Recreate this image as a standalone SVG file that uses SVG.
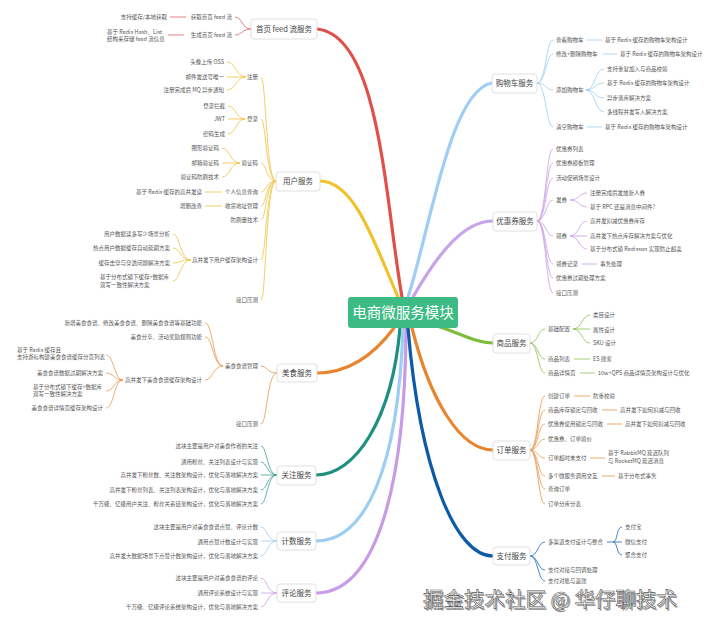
<svg xmlns="http://www.w3.org/2000/svg" width="720" height="625" viewBox="0 0 720 625">
<style>
text{font-family:"Noto Sans CJK SC","Liberation Sans",sans-serif}
.t{font-size:5.5px;fill:#555}
.e{text-anchor:end}
.m{font-size:7.5px;fill:#444;text-anchor:middle}
.box{fill:#fff;stroke:#d8d8d8;stroke-width:0.8}
.br{fill:none;stroke-width:3.2;stroke-linecap:round}
.s{fill:none;stroke-width:0.8}
.red{stroke:#e06060}.yel{stroke:#f0c040}.ora{stroke:#e8954a}.tea{stroke:#3aa090}.lbl{stroke:#9ccdf2}.pur{stroke:#c8a0e6}.grn{stroke:#8cc050}.dbl{stroke:#1a66ae}
.wm{font-size:20.5px;fill:#fff;stroke:#555;stroke-width:0.6}
.wms{font-size:20.5px;fill:#999}
</style>
<rect width="720" height="625" fill="#fff"/>

<g id="connectors">
<path class="br" stroke="#e0504a" d="M402,297 C385,200 380,35 317,29"/>
<path class="br" stroke="#f2c12e" d="M398,297 C375,245 355,181 320,181"/>
<path class="br" stroke="#e8852f" d="M394,328 C370,360 345,373 317,373"/>
<path class="br" stroke="#1f8f7f" d="M400,328 C392,420 355,475 316,475"/>
<path class="br" stroke="#9ccdf2" d="M403,328 C398,470 365,541 316,541"/>
<path class="br" stroke="#c79be6" d="M406,328 C405,500 372,593 316,593"/>
<path class="br" stroke="#9fcdf5" d="M408,297 C430,230 450,90 492,83"/>
<path class="br" stroke="#c7a3ea" d="M413,297 C440,250 465,221 493,221"/>
<path class="br" stroke="#7dbd3b" d="M437,326 C460,333 475,343 493,343"/>
<path class="br" stroke="#e8852f" d="M412,328 C430,400 460,450 493,450"/>
<path class="br" stroke="#0d5aa7" d="M408,328 C420,470 455,556 493,556"/>

<g class="s red">
<path d="M251,29 C242,29 242,17 235,17"/><path d="M251,29 C242,29 242,35 235,35"/>
<path d="M186,17 H170"/><path d="M184,35 H168"/>
</g>
<g class="s yel">
<path d="M276,181 C266,181 266,77 261,77"/><path d="M276,181 C266,181 266,119 261,119"/>
<path d="M276,181 C266,181 266,163 261,163"/><path d="M276,181 C266,181 266,192 261,192"/>
<path d="M276,181 C266,181 266,206 261,206"/><path d="M276,181 C266,181 266,220 261,220"/>
<path d="M276,181 C266,181 266,260 261,260"/><path d="M276,181 C266,181 266,300 261,300"/>
<path d="M246,77 C236,77 236,62 227,62"/><path d="M246,77 H227"/><path d="M246,77 C236,77 236,90 227,90"/>
<path d="M245,119 C236,119 236,106 228,106"/><path d="M245,119 H228"/><path d="M245,119 C236,119 236,134 228,134"/>
<path d="M240,163 C230,163 230,148 222,148"/><path d="M240,163 H222"/><path d="M240,163 C230,163 230,177 222,177"/>
<path d="M222,192 H205"/><path d="M222,206 H205"/>
<path d="M191,260 C180,260 180,234 173,234"/><path d="M191,260 C180,260 180,248 173,248"/>
<path d="M191,260 C180,260 180,263 173,263"/><path d="M191,260 C180,260 180,281 173,281"/>
</g>
<g class="s ora">
<path d="M277,373 C267,373 267,366 261,366"/><path d="M277,373 C267,373 267,424 261,424"/>
<path d="M223,366 C213,366 213,323 205,323"/><path d="M223,366 C213,366 213,337 205,337"/><path d="M223,366 C213,366 213,380 205,380"/>
<path d="M123,380 C114,380 114,355 106,355"/><path d="M123,380 C114,380 114,373 106,373"/>
<path d="M123,380 C114,380 114,391 106,391"/><path d="M123,380 C114,380 114,408 106,408"/>
</g>
<g class="s tea">
<path d="M277,475 C267,475 267,446 261,446"/><path d="M277,475 C267,475 267,462 261,462"/>
<path d="M277,475 H261"/><path d="M277,475 C267,475 267,490 261,490"/><path d="M277,475 C267,475 267,504 261,504"/>
</g>
<g class="s lbl">
<path d="M277,541 C267,541 267,527 261,527"/><path d="M277,541 H261"/><path d="M277,541 C267,541 267,556 261,556"/>
</g>
<g class="s pur">
<path d="M277,593 C267,593 267,578 261,578"/><path d="M277,593 H261"/><path d="M277,593 C267,593 267,607 261,607"/>
</g>
<g class="s lbl">
<path d="M537,83 C546,83 546,40 553,40"/><path d="M537,83 C546,83 546,54 553,54"/>
<path d="M537,83 C546,83 546,90 553,90"/><path d="M537,83 C546,83 546,127 553,127"/>
<path d="M587,40 H602"/><path d="M603,54 H617"/><path d="M587,127 H602"/>
<path d="M586,90 C595,90 595,69 604,69"/><path d="M586,90 C595,90 595,83 604,83"/>
<path d="M586,90 C595,90 595,98 604,98"/><path d="M586,90 C595,90 595,112 604,112"/>
</g>
<g class="s pur">
<path d="M537,221 C546,221 546,149 553,149"/><path d="M537,221 C546,221 546,163 553,163"/>
<path d="M537,221 C546,221 546,178 553,178"/><path d="M537,221 C546,221 546,200 553,200"/>
<path d="M537,221 C546,221 546,236 553,236"/><path d="M537,221 C546,221 546,264 553,264"/>
<path d="M537,221 C546,221 546,278 553,278"/><path d="M537,221 C546,221 546,293 553,293"/>
<path d="M570,200 C579,200 579,193 587,193"/><path d="M570,200 C579,200 579,207 587,207"/>
<path d="M570,236 C579,236 579,221 587,221"/><path d="M570,236 H587"/><path d="M570,236 C579,236 579,249 587,249"/>
<path d="M582,264 H597"/>
</g>
<g class="s grn">
<path d="M530,343 C538,343 538,329 545,329"/><path d="M530,343 C538,343 538,359 545,359"/><path d="M530,343 C538,343 538,373 545,373"/>
<path d="M573,329 C582,329 582,315 590,315"/><path d="M573,329 H590"/><path d="M573,329 C582,329 582,343 590,343"/>
<path d="M574,359 H590"/><path d="M580,373 H595"/>
</g>
<g class="s ora">
<path d="M530,450 C538,450 538,396 545,396"/><path d="M530,450 C538,450 538,410 545,410"/>
<path d="M530,450 C538,450 538,424 545,424"/><path d="M530,450 C538,450 538,439 545,439"/>
<path d="M530,450 C538,450 538,458 545,458"/><path d="M530,450 C538,450 538,476 545,476"/>
<path d="M530,450 C538,450 538,489 545,489"/><path d="M530,450 C538,450 538,504 545,504"/>
<path d="M574,396 H590"/><path d="M602,410 H617"/><path d="M607,424 H622"/>
<path d="M590,458 H605"/><path d="M602,476 H615"/>
</g>
<g class="s dbl">
<path d="M530,556 C538,556 538,542 545,542"/><path d="M530,556 C538,556 538,570 545,570"/><path d="M530,556 C538,556 538,581 545,581"/>
<path d="M607,542 H613 C618,542 616,527 622,527"/><path d="M613,542 H622"/><path d="M613,542 C618,542 616,555 622,555"/>
</g>
</g>

<g id="root">
<rect x="348" y="297" width="110" height="31" rx="3" fill="#3dbb84"/>
<text x="403" y="317.5" font-size="14.5" fill="#fff" text-anchor="middle">电商微服务模块</text>
</g>

<g id="feed">
<rect class="box" x="251" y="19" width="66" height="20" rx="3"/>
<text class="m" x="284" y="31.5">首页 feed 流服务</text>
<text class="t e" x="232" y="19">获取首页 feed 流</text>
<text class="t e" x="232" y="37">生成首页 feed 流</text>
<text class="t e" x="167" y="19">支持缓存/本地获取</text>
<text class="t" x="107" y="34">基于 Redis Hash、List</text>
<text class="t" x="107" y="41">结构来存储 feed 流信息</text>
</g>

<g id="user">
<rect class="box" x="276" y="172" width="44" height="19" rx="3"/>
<text class="m" x="298" y="184">用户服务</text>
<g class="t e">
<text x="258" y="79">注册</text>
<text x="258" y="121">登录</text>
<text x="258" y="165">验证码</text>
<text x="258" y="194">个人信息查询</text>
<text x="258" y="208">收货地址管理</text>
<text x="258" y="222">防刷量技术</text>
<text x="258" y="262">高并发下用户缓存架构设计</text>
<text x="258" y="302">接口压测</text>
<text x="224" y="64">头像上传 OSS</text>
<text x="224" y="79">邮件发送号唯一</text>
<text x="224" y="92">注册完成后 MQ 异步通知</text>
<text x="225" y="108">登录拦截</text>
<text x="225" y="121">JWT</text>
<text x="225" y="136">密码生成</text>
<text x="219" y="150">图形验证码</text>
<text x="219" y="165">邮箱验证码</text>
<text x="219" y="179">验证码防刷技术</text>
<text x="202" y="194">基于 Redis 缓存的高并发读</text>
<text x="202" y="208">增删改查</text>
<text x="170" y="236">用户数据读多写少场景分析</text>
<text x="170" y="250">热点用户数据缓存自动延期方案</text>
<text x="170" y="265">缓存击穿与穿透问题解决方案</text>
</g>
<text class="t" x="100" y="279">基于分布式锁下缓存+数据库</text>
<text class="t" x="100" y="287">双写一致性解决方案</text>
</g>

<g id="food">
<rect class="box" x="277" y="364" width="40" height="18" rx="3"/>
<text class="m" x="297" y="375.5">美食服务</text>
<g class="t e">
<text x="258" y="368">美食食谱管理</text>
<text x="258" y="426">接口压测</text>
<text x="202" y="325">新增美食食谱、修改美食食谱、删除美食食谱等基础功能</text>
<text x="202" y="339">美食分享、活动奖励规则功能</text>
<text x="202" y="382">高并发下美食食谱缓存架构设计</text>
<text x="103" y="375">美食食谱数据过期解决方案</text>
<text x="103" y="410">美食食谱详情页缓存架构设计</text>
</g>
<text class="t" x="17" y="352">基于 Redis 缓存且</text>
<text class="t" x="17" y="359">支持游标构建美食食谱缓存分页列表</text>
<text class="t" x="33" y="389">基于分布式锁下缓存+数据库</text>
<text class="t" x="33" y="396">双写一致性解决方案</text>
</g>

<g id="follow">
<rect class="box" x="277" y="466" width="39" height="19" rx="3"/>
<text class="m" x="296.5" y="478">关注服务</text>
<g class="t e">
<text x="258" y="448">这块主要是用户对美食作者的关注</text>
<text x="258" y="464">通用粉丝、关注列表设计与实现</text>
<text x="258" y="477">高并发下粉丝数、关注数架构设计，优化与落地解决方案</text>
<text x="258" y="492">高并发下粉丝列表、关注列表架构设计，优化与落地解决方案</text>
<text x="258" y="506">千万级、亿级用户关注、粉丝关系链架构设计，优化与落地解决方案</text>
</g>
</g>

<g id="count">
<rect class="box" x="277" y="532" width="39" height="18" rx="3"/>
<text class="m" x="296.5" y="543.5">计数服务</text>
<g class="t e">
<text x="258" y="529">这块主要是用户对美食食谱点赞、评论计数</text>
<text x="258" y="544">通用点赞计数设计与实现</text>
<text x="258" y="558">高并发大数据场景下点赞计数架构设计，优化与落地解决方案</text>
</g>
</g>

<g id="comment">
<rect class="box" x="277" y="584" width="39" height="18" rx="3"/>
<text class="m" x="296.5" y="595.5">评论服务</text>
<g class="t e">
<text x="258" y="580">这块主要是用户对美食食谱的评论</text>
<text x="258" y="595">通用评论系统设计与实现</text>
<text x="258" y="609">千万级、亿级评论系统架构设计，优化与落地解决方案</text>
</g>
</g>

<g id="cart">
<rect class="box" x="492" y="74" width="45" height="19" rx="3"/>
<text class="m" x="514.5" y="86">购物车服务</text>
<g class="t">
<text x="556" y="42">查看购物车</text>
<text x="556" y="56">修改+删除购物车</text>
<text x="556" y="92">添加购物车</text>
<text x="556" y="129">清空购物车</text>
<text x="605" y="42">基于 Redis 缓存的购物车架构设计</text>
<text x="620" y="56">基于 Redis 缓存的购物车架构设计</text>
<text x="607" y="71">支持重复加入与商品校验</text>
<text x="607" y="85">基于 Redis 缓存的购物车架构设计</text>
<text x="607" y="100">异步落库解决方案</text>
<text x="607" y="114">多线程并发写入解决方案</text>
<text x="605" y="129">基于 Redis 缓存的购物车架构设计</text>
</g>
</g>

<g id="coupon">
<rect class="box" x="493" y="212" width="44" height="19" rx="3"/>
<text class="m" x="515" y="224">优惠券服务</text>
<g class="t">
<text x="556" y="151">优惠券列表</text>
<text x="556" y="165">优惠券模板管理</text>
<text x="556" y="180">活动促销场景设计</text>
<text x="556" y="202">发券</text>
<text x="556" y="238">领券</text>
<text x="556" y="266">领券记录</text>
<text x="556" y="280">优惠券过期处理方案</text>
<text x="556" y="295">接口压测</text>
<text x="590" y="195">注册完成后发放新人券</text>
<text x="590" y="209">基于 RPC 还是消息中间件?</text>
<text x="590" y="223">高并发扣减优惠券库存</text>
<text x="590" y="238">高并发下热点库存解决方案与优化</text>
<text x="590" y="251">基于分布式锁 Redisson 实现防止超卖</text>
<text x="600" y="266">事务处理</text>
</g>
</g>

<g id="product">
<rect class="box" x="493" y="334" width="37" height="19" rx="3"/>
<text class="m" x="511.5" y="346">商品服务</text>
<g class="t">
<text x="548" y="331">基础配置</text>
<text x="548" y="361">商品列表</text>
<text x="548" y="375">商品详情页</text>
<text x="593" y="317">类目设计</text>
<text x="593" y="332">属性设计</text>
<text x="593" y="345">SKU 设计</text>
<text x="593" y="361">ES 搜索</text>
<text x="598" y="375">10w+QPS 商品详情页架构设计与优化</text>
</g>
</g>

<g id="order">
<rect class="box" x="493" y="441" width="37" height="19" rx="3"/>
<text class="m" x="511.5" y="453">订单服务</text>
<g class="t">
<text x="548" y="398">创建订单</text>
<text x="548" y="412">商品库存锁定与回收</text>
<text x="548" y="426">优惠券使用锁定与回收</text>
<text x="548" y="441">优惠券、订单验价</text>
<text x="548" y="460">订单超时未支付</text>
<text x="548" y="478">多个微服务调用交互</text>
<text x="548" y="491">查询订单</text>
<text x="548" y="506">订单分库分表</text>
<text x="593" y="398">防重校验</text>
<text x="620" y="412">高并发下如何扣减与回收</text>
<text x="625" y="426">高并发下如何扣减与回收</text>
<text x="608" y="455">基于 RabbitMQ 延迟队列</text>
<text x="608" y="463">与 RocketMQ 延迟消息</text>
<text x="618" y="478">基于分布式事务</text>
</g>
</g>

<g id="pay">
<rect class="box" x="493" y="547" width="37" height="18" rx="3"/>
<text class="m" x="511.5" y="558.5">支付服务</text>
<g class="t">
<text x="548" y="544">多渠道支付设计与整合</text>
<text x="548" y="572">支付对接与回调处理</text>
<text x="548" y="582.5">支付对账与退款</text>
<text x="625" y="529">支付宝</text>
<text x="625" y="544">微信支付</text>
<text x="625" y="557">聚合支付</text>
</g>
</g>

<g id="watermark">
<text class="wms" x="424.5" y="608.5">掘金技术社区 @ 华仔聊技术</text>
<text class="wm" x="423" y="607">掘金技术社区 @ 华仔聊技术</text>
</g>
</svg>
